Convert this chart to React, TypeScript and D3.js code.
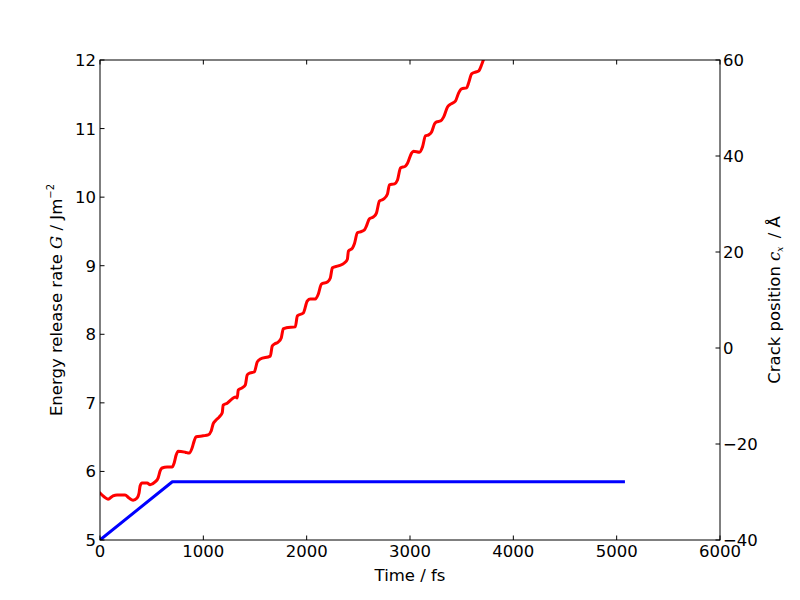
import React from "react";
import * as d3 from "d3";

// Crack position (right axis, Å) vs time (fs)
const crackTime = [0,39,78,126,165,242,281,320,359,378,388,407,456,485,533,562,582,601,649,698,717,737,756,824,863,892,911,931,998,1047,1076,1095,1115,1153,1183,1192,1231,1279,1309,1328,1338,1376,1406,1425,1454,1493,1522,1551,1648,1667,1687,1725,1754,1774,1803,1890,1910,1968,2006,2036,2084,2113,2142,2200,2229,2249,2307,2365,2394,2404,2443,2462,2491,2520,2559,2578,2607,2646,2675,2704,2743,2782,2801,2850,2879,2908,2956,2976,3015,3034,3092,3121,3150,3180,3209,3238,3257,3296,3325,3363,3393,3441,3470,3499,3548,3567,3596,3635,3664,3693,3722];
const crackPos = [-30.2,-31.0,-31.5,-30.8,-30.6,-30.6,-31.25,-31.7,-31.25,-30.2,-28.75,-28.1,-28.1,-28.5,-27.9,-27.1,-25.6,-25.0,-24.8,-24.8,-24.0,-22.3,-21.5,-21.7,-21.9,-20.8,-19.4,-18.5,-18.3,-18.1,-17.3,-15.8,-15.2,-14.4,-13.5,-11.9,-11.5,-10.6,-10.2,-10.4,-8.75,-8.3,-7.7,-5.6,-5.2,-5.0,-2.9,-2.3,-1.7,0.4,0.8,1.25,2.1,4.0,4.2,4.4,6.7,7.3,9.8,10.2,10.2,11.25,13.3,13.75,14.6,16.7,17.1,17.7,18.5,20.2,20.8,21.7,24.0,24.2,24.6,25.4,26.9,27.3,28.1,30.6,31.0,32.1,34.0,34.2,35.0,37.5,37.9,38.5,40.6,41.0,40.8,41.9,44.2,44.4,45.0,46.7,47.1,47.3,48.1,50.2,50.8,51.5,53.1,54.0,54.2,55.2,57.1,57.5,57.7,59.0,60.8];

// Energy release rate G (left axis, J/m^2) vs time (fs)
const gTime = [0, 700, 5080];
const gValue = [5, 5.85, 5.85];

const xTicks = [0, 1000, 2000, 3000, 4000, 5000, 6000];
const gTicks = [5, 6, 7, 8, 9, 10, 11, 12];
const cTicks = [-40, -20, 0, 20, 40, 60];

const W = 800, H = 600;
const L = 100, R = 720, T = 60, B = 540;
const FONT = "'DejaVu Sans', sans-serif";
const FS = 16.5;

export default function App() {
  const x = d3.scaleLinear().domain([0, 6000]).range([L, R]);
  const yG = d3.scaleLinear().domain([5, 12]).range([B, T]);
  const yC = d3.scaleLinear().domain([-40, 60]).range([B, T]);

  const gLine = d3.line<number>()
    .x((_, i) => x(gTime[i]))
    .y((d) => yG(d));
  const cLine = d3.line<number>()
    .x((_, i) => x(crackTime[i]))
    .y((d) => yC(d))
    .curve(d3.curveMonotoneX);

  const fmt = (v: number) => (v < 0 ? "\u2212" + Math.abs(v) : String(v));
  const tl = 4.5;

  return (
    <svg width={W} height={H} style={{ display: "block", position: "absolute", left: 0, top: 0, background: "#fff" }}>
      <rect x={0} y={0} width={W} height={H} fill="#fff" />
      <defs>
        <clipPath id="plotclip">
          <rect x={L} y={T} width={R - L} height={B - T} />
        </clipPath>
      </defs>
      <g clipPath="url(#plotclip)">
        <path d={cLine(crackPos) || ""} fill="none" stroke="#ff0000" strokeWidth={3} strokeLinejoin="round" strokeLinecap="round" />
        <path d={gLine(gValue) || ""} fill="none" stroke="#0000ff" strokeWidth={3} strokeLinejoin="round" />
      </g>
      <rect x={L} y={T} width={R - L} height={B - T} fill="none" stroke="#000" strokeWidth={1} />
      {/* x ticks */}
      {xTicks.map((t) => (
        <g key={"x" + t}>
          <line x1={x(t)} x2={x(t)} y1={B} y2={B - tl} stroke="#000" />
          <line x1={x(t)} x2={x(t)} y1={T} y2={T + tl} stroke="#000" />
          <text x={x(t)} y={B + 17} fontFamily={FONT} fontSize={FS} textAnchor="middle">{fmt(t)}</text>
        </g>
      ))}
      {/* left ticks */}
      {gTicks.map((v) => (
        <g key={"g" + v}>
          <line x1={L} x2={L + tl} y1={yG(v)} y2={yG(v)} stroke="#000" />
          <text x={L - 4} y={yG(v) + 6} fontFamily={FONT} fontSize={FS} textAnchor="end">{fmt(v)}</text>
        </g>
      ))}
      {/* right ticks */}
      {cTicks.map((v) => (
        <g key={"c" + v}>
          <line x1={R} x2={R - tl} y1={yC(v)} y2={yC(v)} stroke="#000" />
          <text x={R + 3} y={yC(v) + 6} fontFamily={FONT} fontSize={FS} textAnchor="start">{fmt(v)}</text>
        </g>
      ))}
      <text x={(L + R) / 2} y={581} fontFamily={FONT} fontSize={FS} textAnchor="middle">Time / fs</text>
      <text transform={`translate(62,300) rotate(-90)`} fontFamily={FONT} fontSize={FS} textAnchor="middle">
        Energy release rate <tspan fontFamily="'DejaVu Serif', serif" fontStyle="italic">G</tspan> / Jm
        <tspan fontSize={10} dy={-8}>{"\u2212"}2</tspan>
      </text>
      <text transform={`translate(780,300) rotate(-90)`} fontFamily={FONT} fontSize={FS} textAnchor="middle">
        Crack position <tspan fontFamily="'DejaVu Serif', serif" fontStyle="italic">c</tspan>
        <tspan fontFamily="'DejaVu Serif', serif" fontStyle="italic" fontSize={9} dy={3}>x</tspan>
        <tspan dy={-3}>{"\u2002"}/ Å</tspan>
      </text>
    </svg>
  );
}
